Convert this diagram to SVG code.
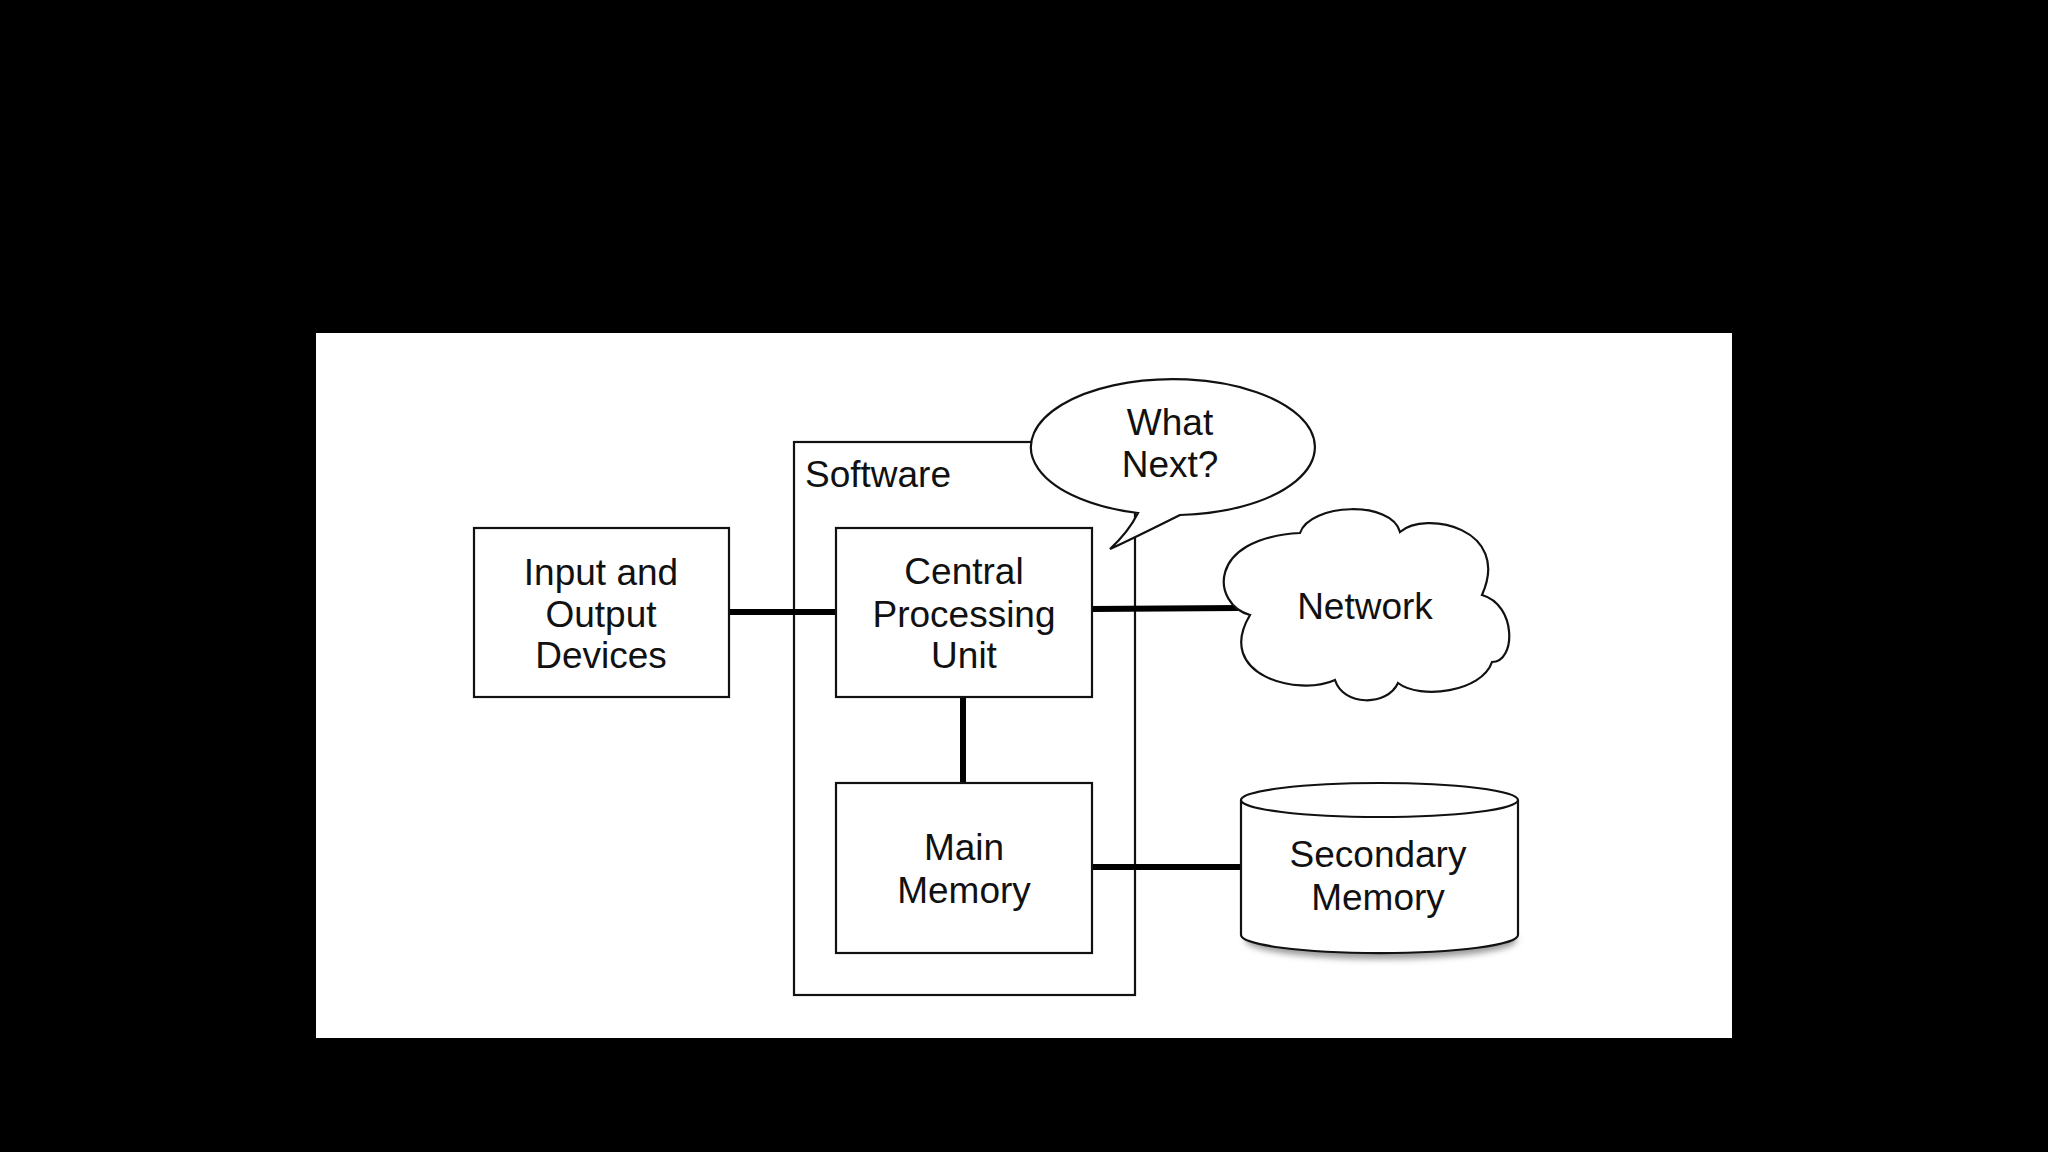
<svg xmlns="http://www.w3.org/2000/svg" width="2048" height="1152" viewBox="0 0 2048 1152">
  <style>
    .box { fill: #ffffff; stroke: #111111; stroke-width: 2.2; }
    .lbl { font-family: "Liberation Sans", Arial, sans-serif; font-size: 37px; fill: #111111; text-anchor: middle; }
    .conn { stroke: #000000; stroke-width: 6; fill: none; stroke-linecap: butt; }
  </style>
  <defs>
    <filter id="shadow" x="-20%" y="-20%" width="140%" height="160%">
      <feGaussianBlur stdDeviation="3"/>
    </filter>
  </defs>
  <rect x="0" y="0" width="2048" height="1152" fill="#000000"/>
  <rect x="316" y="333" width="1416" height="705" fill="#ffffff"/>

  <g id="software">
    <rect class="box" x="794" y="442" width="341" height="553"/>
    <text class="lbl" x="805" y="487" style="text-anchor:start">Software</text>
  </g>

  <g id="connectors">
    <line class="conn" x1="729" y1="612" x2="837" y2="612"/>
    <line class="conn" x1="1091" y1="609" x2="1238" y2="608"/>
    <line class="conn" x1="963" y1="696" x2="963" y2="784"/>
    <line class="conn" x1="1091" y1="867" x2="1242" y2="867"/>
  </g>

  <g id="io">
    <rect class="box" x="474" y="528" width="255" height="169"/>
    <text class="lbl" x="601" y="585">Input and</text>
    <text class="lbl" x="601" y="627">Output</text>
    <text class="lbl" x="601" y="668">Devices</text>
  </g>

  <g id="cpu">
    <rect class="box" x="836" y="528" width="256" height="169"/>
    <text class="lbl" x="964" y="584">Central</text>
    <text class="lbl" x="964" y="627">Processing</text>
    <text class="lbl" x="964" y="668">Unit</text>
  </g>

  <g id="mainmemory">
    <rect class="box" x="836" y="783" width="256" height="170"/>
    <text class="lbl" x="964" y="860">Main</text>
    <text class="lbl" x="964" y="903">Memory</text>
  </g>

  <g id="whatnext">
    <path class="box" d="M1138,513 A142,68 0 1 1 1180,515 C1160,525 1130,540 1110,549 C1122,538 1132,525 1138,513 Z"/>
    <text class="lbl" x="1170" y="435">What</text>
    <text class="lbl" x="1170" y="477">Next?</text>
  </g>

  <g id="network">
    <path class="box" d="M1250,615 C1212,605 1205,538 1300,533 C1310,503 1392,500 1400,532 C1425,510 1512,528 1482,595 C1517,605 1516,662 1492,662 C1482,692 1420,700 1398,683 C1387,707 1343,706 1335,680 C1298,697 1214,675 1250,615 Z"/>
    <text class="lbl" x="1365" y="619">Network</text>
  </g>

  <g id="secondary">
    <ellipse cx="1381" cy="940" rx="136" ry="19" fill="#9a9a9a" filter="url(#shadow)"/>
    <path class="box" d="M1241,800 L1241,935 A138,18 0 0 0 1518,935 L1518,800"/>
    <ellipse class="box" cx="1379.5" cy="800" rx="138.5" ry="17"/>
    <text class="lbl" x="1378" y="867">Secondary</text>
    <text class="lbl" x="1378" y="910">Memory</text>
  </g>
</svg>
